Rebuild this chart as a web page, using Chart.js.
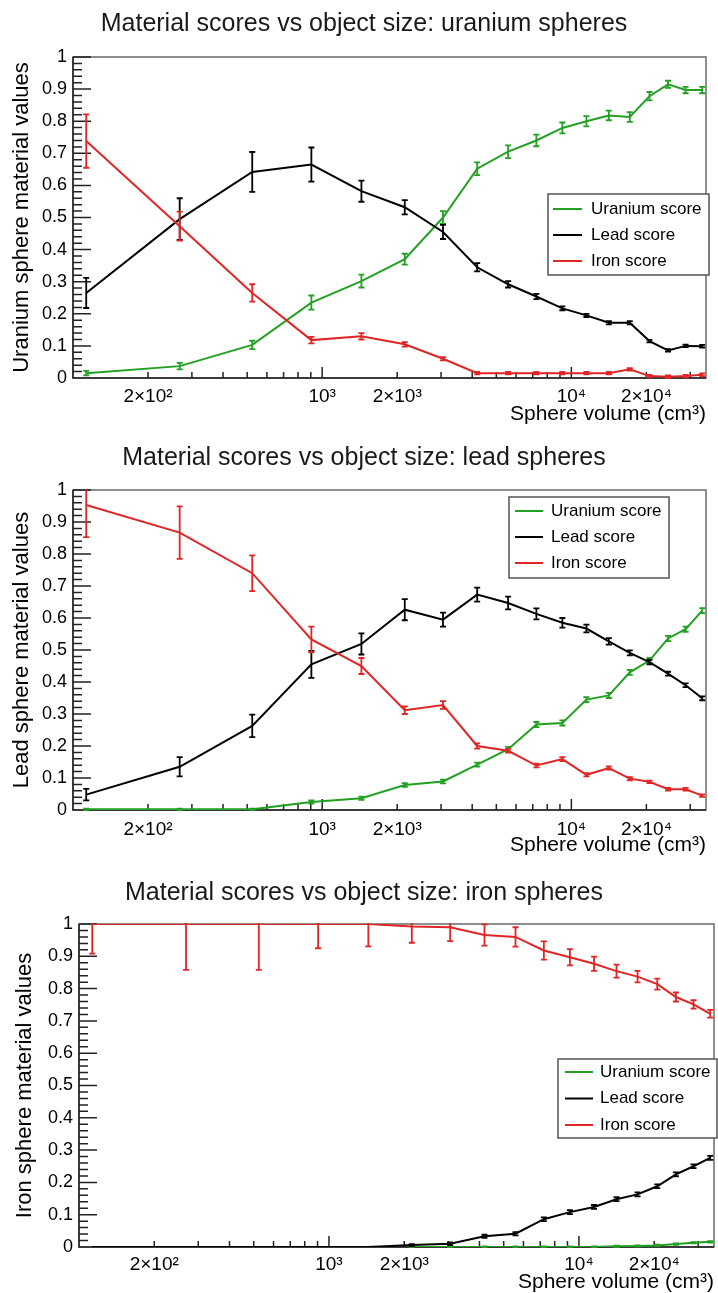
<!DOCTYPE html>
<html>
<head>
<meta charset="utf-8">
<title>Material scores vs object size</title>
<script src="https://cdn.jsdelivr.net/npm/chart.js@4.4.1/dist/chart.umd.min.js"></script>
<style>
  html, body { margin: 0; padding: 0; background: #fff; }
  canvas { display: block; }
</style>
</head>
<body>
<canvas id="uraniumChart" width="718" height="433"></canvas>
<canvas id="leadChart" width="718" height="433"></canvas>
<canvas id="ironChart" width="718" height="427"></canvas>
<script>
// sphere volumes in cm3 (radius 3 cm ... 20 cm)
const volumes = [113, 268, 524, 905, 1437, 2145, 3054, 4189, 5575, 7238, 9203, 11494, 14137, 17157, 20580, 24429, 28731, 33510];

const seriesNames = ["Uranium score", "Lead score", "Iron score"];
const seriesColors = ["#22a022", "#000000", "#e02525"];

const xTickValues = [200, 1000, 2000, 10000, 20000];
const xTickLabels = ["2×10²", "10³", "2×10³", "10⁴", "2×10⁴"];

// uranium spheres
const uraniumU = [0.015, 0.037, 0.103, 0.235, 0.302, 0.37, 0.5, 0.652, 0.705, 0.74, 0.779, 0.8, 0.818, 0.813, 0.878, 0.915, 0.897, 0.897];
const uraniumUErr = [0.007, 0.01, 0.013, 0.022, 0.02, 0.017, 0.02, 0.02, 0.02, 0.018, 0.017, 0.016, 0.015, 0.015, 0.013, 0.011, 0.01, 0.01];
const uraniumPb = [0.265, 0.495, 0.642, 0.665, 0.582, 0.532, 0.455, 0.345, 0.292, 0.254, 0.217, 0.195, 0.172, 0.172, 0.115, 0.086, 0.1, 0.099];
const uraniumPbErr = [0.047, 0.065, 0.062, 0.053, 0.033, 0.022, 0.022, 0.013, 0.01, 0.008, 0.006, 0.005, 0.005, 0.005, 0.004, 0.004, 0.004, 0.004];
const uraniumFe = [0.738, 0.473, 0.265, 0.118, 0.13, 0.105, 0.06, 0.015, 0.015, 0.015, 0.015, 0.015, 0.015, 0.027, 0.006, 0.004, 0.006, 0.01];
const uraniumFeErr = [0.083, 0.045, 0.027, 0.01, 0.01, 0.007, 0.005, 0.004, 0.004, 0.004, 0.004, 0.004, 0.004, 0.004, 0.004, 0.004, 0.004, 0.004];

// lead spheres
const leadU = [0.002, 0.002, 0.002, 0.025, 0.037, 0.078, 0.089, 0.142, 0.19, 0.267, 0.272, 0.345, 0.358, 0.43, 0.467, 0.536, 0.565, 0.623];
const leadUErr = [0.002, 0.002, 0.002, 0.005, 0.005, 0.006, 0.006, 0.006, 0.007, 0.008, 0.008, 0.008, 0.008, 0.008, 0.008, 0.008, 0.008, 0.008];
const leadPb = [0.048, 0.135, 0.263, 0.455, 0.519, 0.626, 0.595, 0.673, 0.647, 0.613, 0.585, 0.567, 0.527, 0.491, 0.462, 0.426, 0.39, 0.349];
const leadPbErr = [0.018, 0.03, 0.035, 0.042, 0.033, 0.033, 0.022, 0.022, 0.02, 0.017, 0.015, 0.012, 0.01, 0.008, 0.007, 0.006, 0.006, 0.006];
const leadFe = [0.953, 0.867, 0.74, 0.533, 0.45, 0.312, 0.328, 0.2, 0.185, 0.139, 0.159, 0.11, 0.131, 0.098, 0.088, 0.065, 0.065, 0.045];
const leadFeErr = [0.1, 0.082, 0.056, 0.04, 0.025, 0.012, 0.012, 0.008, 0.006, 0.006, 0.006, 0.005, 0.005, 0.005, 0.004, 0.004, 0.004, 0.004];

// iron spheres
const ironU = [null, null, null, null, null, 0, 0, 0, 0, 0, 0, 0, 0.002, 0.003, 0.005, 0.009, 0.013, 0.016];
const ironUErr = [0, 0, 0, 0, 0, 0.002, 0.002, 0.002, 0.002, 0.002, 0.002, 0.002, 0.002, 0.002, 0.002, 0.002, 0.002, 0.002];
const ironPb = [0, 0, 0, 0, 0, 0.006, 0.01, 0.033, 0.041, 0.086, 0.108, 0.124, 0.148, 0.163, 0.188, 0.225, 0.25, 0.276];
const ironPbErr = [0, 0, 0, 0, 0, 0.003, 0.004, 0.005, 0.005, 0.006, 0.006, 0.006, 0.006, 0.006, 0.006, 0.006, 0.006, 0.006];
const ironFe = [1, 1, 1, 1, 1, 0.992, 0.99, 0.966, 0.96, 0.918, 0.897, 0.877, 0.854, 0.837, 0.814, 0.774, 0.751, 0.722];
const ironFeErr = [0.092, 0.142, 0.142, 0.075, 0.069, 0.05, 0.043, 0.033, 0.03, 0.028, 0.025, 0.022, 0.02, 0.018, 0.017, 0.014, 0.013, 0.012];

const FONT = "'Liberation Sans', Arial, Helvetica, sans-serif";
Chart.defaults.font.family = FONT;
Chart.defaults.color = "#000";

// vertical error bars with small caps, drawn right after each line
const errorBars = {
  id: "errorBars",
  afterDatasetDraw(chart, args) {
    const ds = chart.data.datasets[args.index];
    if (!ds.errors) return;
    const { ctx, chartArea: a } = chart;
    const x = chart.scales.x, y = chart.scales.y;
    ctx.save();
    ctx.beginPath();
    ctx.rect(a.left, a.top - 1, a.right - a.left, a.bottom - a.top + 2);
    ctx.clip();
    ctx.strokeStyle = ds.borderColor;
    ctx.lineWidth = 1.8;
    ctx.beginPath();
    ds.data.forEach((p, i) => {
      const e = ds.errors[i];
      if (p.y === null || !e) return;
      const px = x.getPixelForValue(p.x);
      const top = y.getPixelForValue(p.y + e);
      const bot = y.getPixelForValue(p.y - e);
      ctx.moveTo(px, top); ctx.lineTo(px, bot);
      ctx.moveTo(px - 3, top); ctx.lineTo(px + 3, top);
      ctx.moveTo(px - 3, bot); ctx.lineTo(px + 3, bot);
    });
    ctx.stroke();
    ctx.restore();
  }
};

// frame plus inward tick marks
const frameTicks = {
  id: "frameTicks",
  beforeDatasetsDraw(chart) {
    const { ctx, chartArea: a } = chart;
    const x = chart.scales.x, y = chart.scales.y;
    ctx.save();
    ctx.lineWidth = 1.5;
    ctx.strokeStyle = "#6a6a6a";
    ctx.strokeRect(a.left, a.top, a.right - a.left, a.bottom - a.top);
    ctx.strokeStyle = "#222";
    ctx.beginPath();
    ctx.moveTo(a.left, a.top); ctx.lineTo(a.left, a.bottom); ctx.lineTo(a.right, a.bottom);
    for (let k = 0; k <= 50; k++) {
      const py = y.getPixelForValue(k / 50);
      const len = k % 5 === 0 ? 18 : 9;
      ctx.moveTo(a.left, py); ctx.lineTo(a.left + len, py);
    }
    for (let dec = 100; dec < x.max; dec *= 10) {
      for (let m = 1; m < 10; m++) {
        const v = dec * m;
        if (v <= x.min || v >= x.max) continue;
        const px = x.getPixelForValue(v);
        const len = m === 1 ? 11 : 6;
        ctx.moveTo(px, a.bottom); ctx.lineTo(px, a.bottom - len);
      }
    }
    ctx.stroke();
    ctx.restore();
  }
};

// boxed legend inside the frame
const boxLegend = {
  id: "boxLegend",
  afterDraw(chart, args, o) {
    const { ctx } = chart;
    ctx.save();
    ctx.fillStyle = "#fff";
    ctx.fillRect(o.left, o.top, o.width, o.height);
    ctx.lineWidth = 1.5;
    ctx.strokeStyle = "#555";
    ctx.strokeRect(o.left, o.top, o.width, o.height);
    ctx.font = "17px " + FONT;
    ctx.textBaseline = "middle";
    chart.data.datasets.forEach((ds, i) => {
      const ry = o.top + o.rowStart + i * o.rowGap;
      ctx.strokeStyle = ds.borderColor;
      ctx.lineWidth = 2;
      ctx.beginPath();
      ctx.moveTo(o.left + o.sampleLeft, ry);
      ctx.lineTo(o.left + o.sampleLeft + o.sampleWidth, ry);
      ctx.stroke();
      ctx.fillStyle = "#000";
      ctx.fillText(ds.label, o.left + o.textLeft, ry);
    });
    ctx.restore();
  }
};

function makeChart(id, p) {
  const values = [p.u, p.pb, p.fe];
  const errors = [p.uErr, p.pbErr, p.feErr];
  return new Chart(document.getElementById(id), {
    type: "line",
    data: {
      datasets: seriesNames.map((name, i) => ({
        label: name,
        data: volumes.map((v, k) => ({ x: v, y: values[i][k] })),
        errors: errors[i],
        borderColor: seriesColors[i],
        backgroundColor: seriesColors[i],
        borderWidth: 2,
        pointRadius: 0,
        tension: 0,
        order: 3 - i,
      })),
    },
    options: {
      responsive: false,
      animation: false,
      layout: { padding: { left: 10, right: 0, top: 0, bottom: 0 } },
      scales: {
        x: {
          type: "logarithmic",
          bounds: "data",
          min: 100,
          max: 34700,
          grid: { display: false, drawTicks: false },
          border: { display: false },
          afterBuildTicks(scale) {
            scale.ticks = xTickValues.map((v) => ({ value: v }));
          },
          ticks: {
            autoSkip: false,
            maxRotation: 0,
            padding: p.xTickPad,
            font: { size: 19 },
            color: "#000",
            callback(value) {
              const i = xTickValues.indexOf(value);
              return i >= 0 ? xTickLabels[i] : "";
            },
          },
          title: {
            display: true,
            text: "Sphere volume (cm³)",
            align: "end",
            font: { size: 21, lineHeight: p.xTitleLH },
            color: "#000",
            padding: { top: 0, bottom: p.xTitlePad },
          },
          afterFit(scale) { scale.height = p.xAxisHeight; },
        },
        y: {
          min: 0,
          max: 1,
          grid: { display: false, drawTicks: false },
          border: { display: false },
          ticks: {
            stepSize: 0.1,
            padding: 6,
            font: { size: 18 },
            color: "#000",
            callback: (v) => String(Math.round(v * 10) / 10),
          },
          title: {
            display: true,
            text: p.yTitle,
            font: { size: 22, lineHeight: 1 },
            color: "#000",
            padding: { top: p.yTitlePad, bottom: 0 },
          },
          afterFit(scale) { scale.width = p.yAxisWidth; },
        },
        // empty strip that keeps the frame off the right edge
        yRight: {
          position: "right",
          grid: { display: false, drawTicks: false },
          border: { display: false },
          ticks: { display: false },
          afterFit(scale) { scale.width = p.rightGap; },
        },
      },
      plugins: {
        legend: { display: false },
        tooltip: { enabled: false },
        title: {
          display: true,
          text: p.title,
          font: { size: 25, weight: "normal" },
          color: "#1a1a1a",
          padding: { top: p.titleTop, bottom: p.titleGap },
        },
        boxLegend: p.legend,
      },
    },
    plugins: [frameTicks, errorBars, boxLegend],
  });
}

makeChart("uraniumChart", {
  title: "Material scores vs object size: uranium spheres",
  yTitle: "Uranium sphere material values",
  u: uraniumU, uErr: uraniumUErr, pb: uraniumPb, pbErr: uraniumPbErr, fe: uraniumFe, feErr: uraniumFeErr,
  rightGap: 12, yAxisWidth: 63, yTitlePad: 1, titleTop: 9, titleGap: 18,
  xAxisHeight: 55, xTickPad: 7, xTitlePad: 6, xTitleLH: 1.2,
  legend: { left: 548, top: 194, width: 161, height: 81, rowStart: 15, rowGap: 26, sampleLeft: 5, sampleWidth: 29, textLeft: 43 },
});

makeChart("leadChart", {
  title: "Material scores vs object size: lead spheres",
  yTitle: "Lead sphere material values",
  u: leadU, uErr: leadUErr, pb: leadPb, pbErr: leadPbErr, fe: leadFe, feErr: leadFeErr,
  rightGap: 12, yAxisWidth: 63, yTitlePad: 1, titleTop: 10, titleGap: 17,
  xAxisHeight: 56, xTickPad: 8, xTitlePad: 8, xTitleLH: 1.2,
  legend: { left: 509, top: 64, width: 160, height: 81, rowStart: 14, rowGap: 26, sampleLeft: 6, sampleWidth: 28, textLeft: 42 },
});

makeChart("ironChart", {
  title: "Material scores vs object size: iron spheres",
  yTitle: "Iron sphere material values",
  u: ironU, uErr: ironUErr, pb: ironPb, pbErr: ironPbErr, fe: ironFe, feErr: ironFeErr,
  rightGap: 4, yAxisWidth: 69, yTitlePad: 4, titleTop: 12, titleGap: 16,
  xAxisHeight: 46, xTickPad: 6, xTitlePad: 0, xTitleLH: 1.0,
  legend: { left: 558, top: 193, width: 159, height: 79, rowStart: 13, rowGap: 26.5, sampleLeft: 7, sampleWidth: 28, textLeft: 42 },
});
</script>
</body>
</html>
